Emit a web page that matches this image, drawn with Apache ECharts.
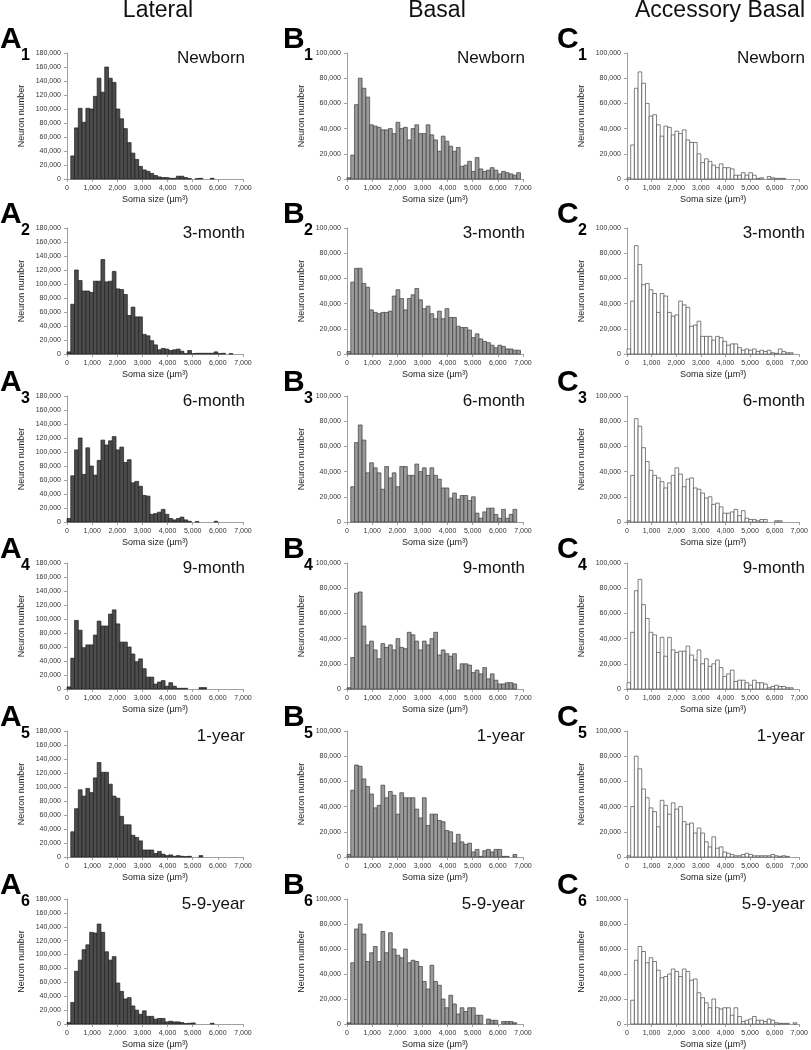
<!DOCTYPE html>
<html>
<head>
<meta charset="utf-8">
<script src="https://cdn.jsdelivr.net/npm/echarts@6/dist/echarts.min.js"></script>
<style>
  html, body { margin: 0; background: #fff; }
  #chart { width: 811px; height: 1050px; }
</style>
</head>
<body>
<div id="chart"></div>
<script>
// bins are 150 µm³ wide, starting at 0; counts in thousands of neurons
const BIN = 150
const xTicks = [0, 1000, 2000, 3000, 4000, 5000, 6000, 7000]
const regions = ['Lateral', 'Basal', 'Accessory Basal']
const letters = ['A', 'B', 'C']
const ages = ['Newborn', '3-month', '6-month', '9-month', '1-year', '5-9-year']
const yMax = [180, 100, 100]

const lateralNewborn = [0,33,73,101,81,101,100,118,144,124,160,144,138,100,86,72,52,37,28,18,13,11,8,5,3,2,2,1,1,4,4,2,0.5,0,0.5,1,0,0,1,0,0,0,0,0,0,0]
const lateral3m = [3,71,120,105,90,90,88,104,104,135,103,104,118,93,92,85,55,67,53,53,28,26,19,13,6,8,7,5,6,7,4,0.5,5,0.5,1,1,1,1,1,3,0.5,1,0,0.5,0,0]
const lateral6m = [5,66,103,120,68,106,80,67,88,117,110,116,122,103,107,85,89,56,58,51,38,37,11,12,14,18,11,5,3,5,7,3,1,0,0.5,0,0,0,0,1,0,0,0,0,0,0]
const lateral9m = [3,44,98,84,59,63,63,77,97,90,90,107,113,93,67,67,60,50,39,43,29,17,17,7,10,12,4,9,4,1,1,1,0,0,0,2,2,0,0,0,0,0,0,0,0,0]
const lateral1y = [0,36,69,96,87,98,92,113,135,121,121,104,87,84,58,46,46,31,28,23,10,10,10,5,8,4,2,3,1,2,1,0.5,1,0,0,2,0,0,0,0,0,0,0,0,0,0]
const lateral59y = [2,31,76,92,107,114,132,131,144,132,104,92,97,59,47,36,38,26,20,14,19,11,11,7,8,8,3,4,3,3,2,0.5,1,1.5,0,0,0,0,1,0,0,0,0,0,0,0]

const basalNewborn = [1,19,59,80,72,65,43,42,41,39,39,40,36,45,40,41,31,40,43,36,36,43,35,31,22,34,30,26,22,25,10,11,14,6,17,8,6,7,9,7,4,6,5,4,3,5]
const basal3m = [2,57,68,68,56,53,35,33,32,33,33,34,46,51,44,35,44,47,52,43,36,38,32,28,34,28,36,29,29,22,21,21,19,13,16,12,10,9,7,5,7,6,4,4,3,3]
const basal6m = [0,28,63,77,65,39,47,43,39,26,44,35,39,28,44,44,37,37,46,40,43,37,43,37,34,27,27,19,23,18,21,21,17,20,7,3,8,11,11,6,3,10,3,6,10,0]
const basal9m = [1,25,76,77,50,35,38,31,24,36,33,35,31,40,33,32,45,43,38,31,38,35,40,45,27,31,28,26,28,15,20,20,19,13,15,12,17,8,12,7,4,4,5,5,4,0]
const basal1y = [2,53,73,72,62,56,50,39,41,57,47,52,49,34,51,47,47,47,38,31,47,25,34,34,29,28,21,20,11,18,12,10,11,4,6,0.5,5,6,4,6,6,0.5,0.5,0,2,0]
const basal59y = [1,49,76,80,72,50,57,62,50,74,57,73,60,55,53,60,49,51,50,46,34,28,47,34,31,20,13,23,16,8,13,10,13,13,7,7,0,4,3,3,0,2,2,2,1,0]

const accBasalNewborn = [1,27,72,85,76,60,50,51,43,34,42,41,35,38,36,39,31,29,29,20,13,16,14,11,9,12,9,9,8,3,3,5,3,5,3,0.5,1,0,2,1,0.5,0.5,0.5,0,0,0]
const accBasal3m = [4,42,86,71,55,56,51,48,33,48,46,33,30,31,42,39,37,22,23,26,14,14,14,11,14,13,10,7,8,8,5,3,4,3,4,2,3,2,3,1,0.5,4,2,1,1,0]
const accBasal6m = [1,37,82,76,59,48,41,37,35,32,27,31,37,43,38,28,34,35,27,26,23,19,20,14,15,12,7,7,8,10,5,9,3,2,2,1,2,2,0,0,1,1,0,0,0,0]
const accBasal9m = [5,45,78,87,67,56,45,43,29,41,26,41,31,29,30,30,34,27,23,31,20,24,18,20,23,17,10,12,15,6,7,7,5,3,7,5,5,4,1,2,3,2,2,1,1,0]
const accBasal1y = [1,40,80,70,54,47,39,36,24,45,41,34,43,38,40,28,26,27,19,23,19,12,8,16,7,8,4,3,2,1,1,2,3,2,1,1,1,1,1,2,1,0.5,1,0.5,0,0]
const accBasal59y = [0,19,51,62,58,49,53,50,43,37,38,40,44,42,38,44,42,35,36,25,21,17,13,20,13,12,13,13,7,13,6,2,3,4,6,3,3,2,4,3,1,0.5,0.5,0.5,0,1]

const columns = [
  [lateralNewborn, lateral3m, lateral6m, lateral9m, lateral1y, lateral59y],
  [basalNewborn, basal3m, basal6m, basal9m, basal1y, basal59y],
  [accBasalNewborn, accBasal3m, accBasal6m, accBasal9m, accBasal1y, accBasal59y]
]

// layout
const colLeft = [67, 347, 627]
const plotW = 176
const rowTop = [53, 228, 396, 563, 731, 899]
const plotH = 126
const letterX = [0, 283, 557]
const headerX = [158, 437, 720]
const barFill = ['#4c4c4c', '#9a9a9a', '#ffffff']
const barStroke = ['#1e1e1e', '#3c3c3c', '#4a4a4a']
const FONT = '"Liberation Sans", Arial, sans-serif'
const axisGray = '#a0a0a0'

const fmt = (v) => v.toLocaleString('en-US')

const chart = echarts.init(document.getElementById('chart'), null, { renderer: 'canvas' })

const grid = []
const xAxis = []
const yAxis = []
const series = []
const graphic = []

regions.forEach((name, c) => {
  graphic.push({
    type: 'text',
    style: { text: name, x: headerX[c], y: 11, font: '23px ' + FONT, fill: '#111', align: 'center', verticalAlign: 'middle' }
  })
})

columns.forEach((panels, c) => {
  panels.forEach((counts, r) => {
    const idx = grid.length
    grid.push({ left: colLeft[c], top: rowTop[r], width: plotW, height: plotH })
    xAxis.push({
      type: 'value', gridIndex: idx, min: xTicks[0], max: xTicks[xTicks.length - 1], interval: 1000,
      name: 'Soma size (µm³)', nameLocation: 'middle', nameGap: 16,
      nameTextStyle: { fontSize: 9, color: '#222', fontFamily: FONT },
      axisLine: { lineStyle: { color: axisGray, width: 1 } },
      axisTick: { show: true, length: 3, lineStyle: { color: axisGray } },
      axisLabel: { fontSize: 7, color: '#333', margin: 6, fontFamily: FONT, formatter: fmt },
      splitLine: { show: false }
    })
    yAxis.push({
      type: 'value', gridIndex: idx, min: 0, max: yMax[c], interval: 20,
      name: 'Neuron number', nameLocation: 'middle', nameGap: 41, nameRotate: 90,
      nameTextStyle: { fontSize: 9, color: '#222', fontFamily: FONT },
      axisLine: { show: true, lineStyle: { color: axisGray, width: 1 } },
      axisTick: { show: true, length: 3, lineStyle: { color: axisGray } },
      axisLabel: { fontSize: 7, color: '#333', margin: 6, fontFamily: FONT, formatter: (v) => fmt(v * 1000) },
      splitLine: { show: false }
    })
    const fill = barFill[c]
    const stroke = barStroke[c]
    series.push({
      type: 'custom',
      xAxisIndex: idx,
      yAxisIndex: idx,
      encode: { x: [0, 1], y: 2 },
      data: counts.map((v, i) => [i * BIN, (i + 1) * BIN, v]),
      renderItem: (params, api) => {
        const v = api.value(2)
        if (!v) return
        const p0 = api.coord([api.value(0), 0])
        const p1 = api.coord([api.value(1), v])
        return {
          type: 'rect',
          shape: { x: p0[0], y: p1[1], width: p1[0] - p0[0], height: p0[1] - p1[1] },
          style: { fill: fill, stroke: stroke, lineWidth: 0.7 }
        }
      },
      silent: true,
      animation: false
    })

    // panel letter with subscript, and age label
    graphic.push({
      type: 'text',
      style: { text: letters[c], x: letterX[c], y: rowTop[r] + 2, font: 'bold 30px ' + FONT, fill: '#000', align: 'left', verticalAlign: 'bottom' }
    })
    graphic.push({
      type: 'text',
      style: { text: String(r + 1), x: letterX[c] + 21, y: rowTop[r] + 11, font: 'bold 16px ' + FONT, fill: '#000', align: 'left', verticalAlign: 'bottom' }
    })
    graphic.push({
      type: 'text',
      style: { text: ages[r], x: colLeft[c] + plotW + 2, y: rowTop[r] + 5, font: '17px ' + FONT, fill: '#111', align: 'right', verticalAlign: 'middle' }
    })
  })
})

chart.setOption({
  backgroundColor: '#fff',
  animation: false,
  grid: grid,
  xAxis: xAxis,
  yAxis: yAxis,
  series: series,
  graphic: graphic
})
</script>
</body>
</html>
